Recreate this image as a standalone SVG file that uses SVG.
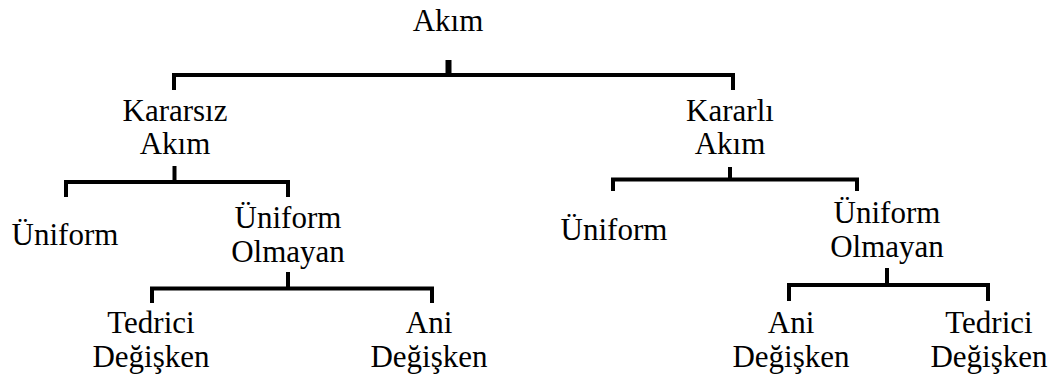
<svg xmlns="http://www.w3.org/2000/svg" width="1058" height="376" viewBox="0 0 1058 376">
<style>
.t text{font-size:31px;fill:#000;text-anchor:middle}
.c{fill:none;stroke:#000;stroke-width:4;stroke-linecap:butt;stroke-linejoin:miter}
</style>
<rect width="1058" height="376" fill="#fff"/>
<g id="connectors">
<path class="c" d="M174 90V75H733V90"/>
<path class="c" d="M448.5 60V75" style="stroke-width:6"/>
<path class="c" d="M66 197V182H288V197M174.5 166V182"/>
<path class="c" d="M613 191V179.5H857V191M730 167V179.5"/>
<path class="c" d="M152 303V288.5H432V303M288 272V288.5"/>
<path class="c" d="M789 301V285H988V301M887 268V285"/>
</g>
<g class="t" font-family="Liberation Serif, Times New Roman, serif">
<g id="n-akim"><text x="448" y="31">Akım</text></g>
<g id="n-kararsiz"><text x="175" y="121">Kararsız</text><text x="175" y="154">Akım</text></g>
<g id="n-kararli"><text x="730" y="121">Kararlı</text><text x="730" y="154">Akım</text></g>
<g id="n-uniform-l"><text x="65" y="245">Üniform</text></g>
<g id="n-uo-l"><text x="288" y="228">Üniform</text><text x="288" y="262">Olmayan</text></g>
<g id="n-uniform-r"><text x="614" y="240">Üniform</text></g>
<g id="n-uo-r"><text x="887" y="223">Üniform</text><text x="887" y="257">Olmayan</text></g>
<g id="n-tedrici-l"><text x="151" y="333">Tedrici</text><text x="151" y="367">Değişken</text></g>
<g id="n-ani-l"><text x="429" y="333">Ani</text><text x="429" y="367">Değişken</text></g>
<g id="n-ani-r"><text x="791" y="333">Ani</text><text x="791" y="367">Değişken</text></g>
<g id="n-tedrici-r"><text x="989" y="333">Tedrici</text><text x="989" y="367">Değişken</text></g>
</g>
</svg>
